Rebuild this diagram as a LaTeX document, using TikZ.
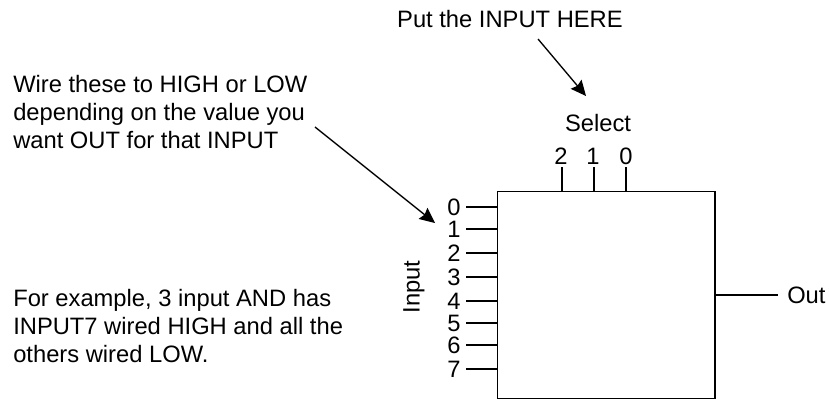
\documentclass[tikz,border=0pt]{standalone}
\usepackage{fontspec}
\setmainfont{Liberation Sans}
\usetikzlibrary{arrows.meta}
\tikzset{
	lbl/.style={inner sep=0pt,font=\fontsize{17.8}{21}\selectfont},
	note/.style={lbl,align=left,anchor=north west},
	pinwire/.style={line width=1pt},
	callout/.style={line width=1pt,-{Stealth[length=11.5pt,width=10.5pt,inset=1.5pt]}}
}
\begin{document}
\begin{tikzpicture}[x=1pt,y=-1pt,scale=0.75]
	\useasboundingbox (0,0) rectangle (829,400);
	\node[draw,pinwire,minimum width=163pt,minimum height=155.5pt,inner sep=0pt] (mux) at (606.3,295) {};
	\node[lbl,anchor=base east] (title) at (623,27) {Put the INPUT HERE};
	\node[lbl] (select) at (598,123) {Select};
	\node[note] (wire) at (13,75) {Wire these to HIGH or LOW\\depending on the value you\\want OUT for that INPUT};
	\node[note] (example) at (13,289) {For example, 3 input AND has\\INPUT7 wired HIGH and all the\\others wired LOW.};
	\node[lbl,rotate=90] (input) at (414,287) {Input};
	\node[lbl,anchor=west] (out) at (787,295) {Out};
	% select pins
	\foreach \s/\x in {2/561,1/593,0/626} {
		\node[lbl] (s\s) at (\x,156) {\s};
	}
	\foreach \x in {562,594,626} {
		\draw[pinwire] (\x,167) -- (\x,191);
	}
	% input pins
	\foreach \i/\y in {0/207,1/229,2/253,3/277,4/301,5/323,6/345,7/369} {
		\node[lbl] (i\i) at (454,\y) {\i};
		\draw[pinwire] (466,\y) -- (497.5,\y);
	}
	\draw[pinwire] (715,295) -- (778,295);
	\coordinate (titleend) at (538,39);
	\coordinate (titletip) at (586,96);
	\coordinate (wireend) at (315,127);
	\coordinate (wiretip) at (435,223);
	\draw[callout] (wireend) -- (wiretip);
	\draw[callout] (titleend) -- (titletip);
\end{tikzpicture}
\end{document}
